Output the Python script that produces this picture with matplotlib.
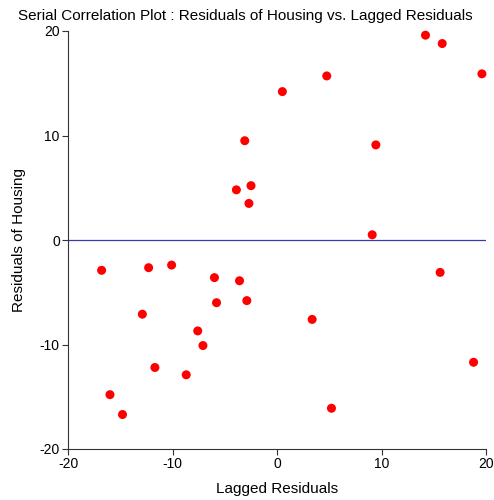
import matplotlib
matplotlib.use("Agg")
import matplotlib.pyplot as plt

plt.rcParams['font.family'] = ['Liberation Sans', 'DejaVu Sans']
plt.rcParams['axes.unicode_minus'] = False

# lagged residuals (x) and residuals of housing (y)
lagged = [-16.8, -16.0, -14.8, -12.3, -10.1, -12.9, -11.7, -8.7, -7.6, -7.1,
          -6.0, -5.8, -3.6, -2.9, -3.9, -3.1, -2.5, -2.7, 0.5, 3.35,
          4.75, 5.2, 9.1, 9.45, 14.2, 15.8, 15.6, 18.8, 19.6]
resid = [-2.9, -14.8, -16.7, -2.65, -2.4, -7.1, -12.2, -12.9, -8.7, -10.1,
         -3.6, -6.0, -3.9, -5.8, 4.8, 9.5, 5.2, 3.5, 14.2, -7.6,
         15.7, -16.1, 0.5, 9.1, 19.6, 18.8, -3.1, -11.7, 15.9]

ticks = [-20, -10, 0, 10, 20]

fig = plt.figure(figsize=(4.94, 5.0), dpi=100)
ax = fig.add_axes([0.138, 0.102, 0.846, 0.836])

ax.axhline(0, color='#3838b0', lw=0.9, zorder=1)
ax.scatter(lagged, resid, s=42, color='red', edgecolors='none', zorder=3, clip_on=False)

ax.set_xlim(-20, 20)
ax.set_ylim(-20, 20)
ax.set_xticks(ticks)
ax.set_yticks(ticks)
ax.tick_params(labelsize=10, length=4, width=0.8, color='#333333', pad=2)
for s in ['top', 'right']:
    ax.spines[s].set_visible(False)
for s in ['left', 'bottom']:
    ax.spines[s].set_color('#333333')

ax.set_xlabel('Lagged Residuals', fontsize=11, labelpad=8)
ax.set_ylabel('Residuals of Housing', fontsize=11, labelpad=10)
ax.set_title('Serial Correlation Plot : Residuals of Housing vs. Lagged Residuals',
             fontsize=11, pad=8, x=0.425)

fig.savefig('out.png', dpi=100)
